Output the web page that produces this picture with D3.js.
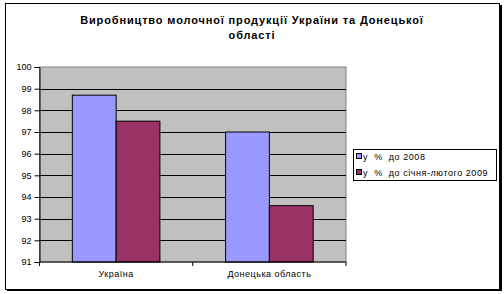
<!DOCTYPE html>
<html>
<head>
<meta charset="utf-8">
<style>
    body { margin: 0; background: #fff; }
    text { font-family: "Liberation Sans", Arial, sans-serif; }
</style>
<script src="https://cdn.jsdelivr.net/npm/d3@7"></script>
</head>
<body>
<svg id="chart" width="504" height="294"></svg>
<script>
    // chart data
    var categories = ["Україна", "Донецька область"];
    var seriesNames = ["у  %  до 2008", "у  %  до січня-лютого 2009"];
    var seriesColors = ["#9999ff", "#993366"];
    var values2008 = [98.7, 97.0];
    var valuesJanFeb = [97.5, 93.6];
    var yTicks = [91, 92, 93, 94, 95, 96, 97, 98, 99, 100];
    var titleLines = ["Виробництво молочної продукції України та Донецької", "області"];

    var svg = d3.select("#chart");

    // outer frame with shadow on right/bottom
    svg.append("rect").attr("x", 5.5).attr("y", 3.5).attr("width", 494).attr("height", 286)
        .attr("fill", "#fff").attr("stroke", "#000").attr("stroke-width", 1);
    svg.append("line").attr("x1", 501).attr("x2", 501).attr("y1", 5).attr("y2", 291).attr("stroke", "#000").attr("stroke-width", 2);
    svg.append("line").attr("x1", 7).attr("x2", 502).attr("y1", 290).attr("y2", 290).attr("stroke", "#000").attr("stroke-width", 2);

    var margin = { left: 39.5, top: 67, right: 346, bottom: 262 };

    var x0 = d3.scaleBand().domain(categories).range([margin.left, margin.right]).paddingInner(0).paddingOuter(0);
    var y = d3.scaleLinear().domain([91, 100]).range([margin.bottom, margin.top]);
    var barW = x0.bandwidth() / 3.5;

    // plot area
    svg.append("rect").attr("x", margin.left).attr("y", margin.top)
        .attr("width", margin.right - margin.left).attr("height", margin.bottom - margin.top)
        .attr("fill", "#c0c0c0").attr("stroke", "#808080").attr("stroke-width", 1);

    // gridlines
    svg.append("g").selectAll("line").data(yTicks.slice(1, -1)).enter().append("line")
        .attr("x1", margin.left).attr("x2", margin.right)
        .attr("y1", function (d) { return Math.round(y(d)) + 0.5; })
        .attr("y2", function (d) { return Math.round(y(d)) + 0.5; })
        .attr("stroke", "#000").attr("stroke-width", 1);

    // bars
    var series = [values2008, valuesJanFeb];
    series.forEach(function (vals, s) {
        svg.append("g").selectAll("rect").data(vals).enter().append("rect")
            .attr("x", function (d, i) { return x0(categories[i]) + barW * (0.75 + s); })
            .attr("y", function (d) { return y(d); })
            .attr("width", barW)
            .attr("height", function (d) { return y(91) - y(d); })
            .attr("fill", seriesColors[s]).attr("stroke", "#000").attr("stroke-width", 1);
    });

    // y axis
    var yAxis = svg.append("g").attr("transform", "translate(" + margin.left + ",0)")
        .call(d3.axisLeft(y).tickValues(yTicks).tickSize(5).tickPadding(3));
    yAxis.select(".domain").attr("stroke", "#000");
    yAxis.selectAll("text").attr("font-size", "9px").attr("font-family", "Liberation Sans, Arial, sans-serif").attr("fill", "#000");

    // x axis
    var xAxis = svg.append("g").attr("transform", "translate(0," + margin.bottom + ")");
    xAxis.append("line").attr("x1", margin.left).attr("x2", margin.right).attr("stroke", "#000");
    xAxis.selectAll("line.tk").data([margin.left, x0(categories[1]), margin.right]).enter().append("line")
        .attr("class", "tk").attr("x1", function (d) { return d; }).attr("x2", function (d) { return d; })
        .attr("y1", 0).attr("y2", 4).attr("stroke", "#000");
    xAxis.selectAll("text").data(categories).enter().append("text")
        .attr("x", function (d) { return x0(d) + x0.bandwidth() / 2; })
        .attr("y", 15).attr("text-anchor", "middle")
        .attr("font-size", "9px").attr("letter-spacing", "0.5px").text(function (d) { return d; });

    // title
    svg.selectAll("text.title").data(titleLines).enter().append("text")
        .attr("class", "title")
        .attr("x", 252).attr("y", function (d, i) { return 24 + i * 15; })
        .attr("text-anchor", "middle").attr("font-size", "11px").attr("font-weight", "bold")
        .attr("letter-spacing", "0.85px").text(function (d) { return d; });

    // legend
    var legend = svg.append("g");
    legend.append("rect").attr("x", 353.5).attr("y", 149.5).attr("width", 143).attr("height", 31)
        .attr("fill", "#fff").attr("stroke", "#000");
    seriesNames.forEach(function (name, i) {
        legend.append("rect").attr("x", 356.5).attr("y", 153.5 + i * 16).attr("width", 5).attr("height", 5)
            .attr("fill", seriesColors[i]).attr("stroke", "#000");
        legend.append("text").attr("x", 363).attr("y", 160 + i * 16)
            .attr("font-size", "9px").attr("letter-spacing", "0.55px")
            .attr("xml:space", "preserve").style("white-space", "pre").text(name);
    });
</script>
</body>
</html>
